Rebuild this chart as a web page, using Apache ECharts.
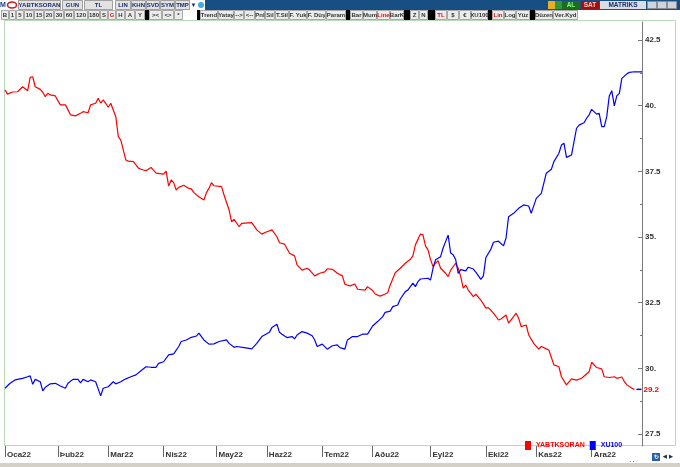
<!DOCTYPE html>
<html><head><meta charset="utf-8">
<script src="https://cdn.jsdelivr.net/npm/echarts@6/dist/echarts.min.js"></script>
<style>html,body{margin:0;padding:0;background:#fff;}#c{width:680px;height:467px;}</style>
</head><body><div id="c"></div>
<script>
// ---- data ----
const monthLabels = ['Oca22','Þub22','Mar22','Nis22','May22','Haz22','Tem22','Aðu22','Eyl22','Eki22','Kas22','Ara22'];
const monthStartDays = [0,21,41,63,84,104,126,146,169,191,211,233];
const yTickValues = [27.5,30,32.5,35,37.5,40,42.5];
const yMinorTicks = [28.75,31.25,33.75,36.25,38.75,41.25];
const seriesNames = ['YABTKSORAN','XU100'];
const lastRedLabel = '29.2';

const redDays = [0,1,3,5,7,9,10,11,12,14,15,16,17,18,20,21,22,24,26,28,30,31,33,34,36,37,38,39,40,41,42,44,45,46,48,49,51,53,54,56,58,60,63,64,65,66,67,68,69,71,73,74,75,77,79,80,81,82,83,86,87,89,90,91,93,94,98,100,102,104,106,108,109,111,113,115,116,118,120,121,123,125,127,128,130,132,134,135,137,139,140,143,144,146,147,149,151,152,153,155,157,159,161,162,163,165,166,167,168,169,170,171,172,173,175,176,177,179,180,181,182,183,184,186,187,189,191,192,194,196,197,199,200,202,203,204,205,207,208,210,212,213,215,216,218,220,221,223,225,227,229,232,233,235,237,238,240,242,243,245,246,247,249,250];
const redValues = [40.60,40.44,40.52,40.53,40.72,40.57,41.08,41.10,40.72,40.62,40.51,40.34,40.47,40.41,40.37,40.19,40.03,40.03,39.65,39.61,39.71,39.77,39.73,40.03,40.09,40.28,40.10,40.22,40.09,39.94,40.09,39.58,38.82,38.69,37.93,37.89,37.87,37.62,37.58,37.52,37.65,37.43,37.39,37.51,36.94,37.17,37.07,36.79,36.89,36.97,36.85,36.83,36.69,36.53,36.41,36.69,36.85,37.07,36.95,36.92,36.60,36.03,35.58,35.67,35.39,35.52,35.55,35.27,35.11,35.20,35.27,35.01,34.78,34.73,34.38,34.28,33.94,33.74,33.81,33.74,33.52,33.62,33.67,33.79,33.77,33.62,33.52,33.20,33.14,33.21,33.01,32.98,33.11,32.96,32.83,32.75,32.83,32.88,33.17,33.64,33.81,34.00,34.15,34.28,34.70,35.11,35.08,34.66,34.51,34.15,33.87,34.00,34.10,33.81,33.62,33.49,33.74,34.00,33.81,33.49,33.05,33.17,32.98,32.73,32.82,32.60,32.29,32.31,32.10,31.84,31.88,32.03,31.72,31.97,32.10,31.91,31.59,31.65,31.27,30.95,30.73,30.83,30.74,30.70,30.13,30.06,29.68,29.37,29.60,29.55,29.62,29.87,30.23,30.03,29.98,29.68,29.65,29.68,29.62,29.67,29.49,29.37,29.24,29.20];

const blueDays = [0,2,4,7,9,10,11,12,14,15,16,18,20,22,24,25,27,29,30,31,33,34,36,38,39,41,43,44,46,48,50,52,54,56,58,60,61,63,65,67,69,70,72,74,76,77,79,81,83,85,88,89,91,92,95,98,100,102,105,106,108,109,110,112,114,115,116,118,120,122,123,124,126,128,130,132,133,135,136,138,140,142,144,146,148,150,151,153,154,156,157,159,160,162,163,164,165,168,169,170,171,173,174,176,177,178,179,180,181,183,184,186,187,189,190,191,193,194,196,198,199,200,202,204,206,208,209,211,213,215,217,218,220,221,222,223,225,227,228,230,231,232,233,235,236,237,238,239,240,241,242,243,244,245,247,248,250,253];
const blueValues = [29.24,29.43,29.56,29.62,29.68,29.71,29.39,29.58,29.49,29.14,29.28,29.41,29.43,29.33,29.24,29.43,29.58,29.58,29.45,29.58,29.49,29.56,29.49,28.95,29.24,29.30,29.49,29.41,29.49,29.60,29.68,29.75,29.91,30.06,30.04,30.04,30.19,30.25,30.51,30.55,30.83,31.02,31.08,31.18,31.23,31.34,31.08,30.92,30.93,31.02,31.08,30.95,30.80,30.83,30.79,30.74,30.95,31.21,31.37,31.55,31.68,31.37,31.30,31.17,31.21,31.12,31.27,31.40,31.34,31.24,31.08,30.83,30.92,30.73,30.86,30.89,30.79,30.73,31.08,31.21,31.21,31.30,31.30,31.61,31.78,31.97,32.13,32.18,32.35,32.41,32.64,32.92,32.98,33.24,33.11,33.30,33.40,33.43,33.36,33.81,34.13,34.25,34.58,35.07,34.39,34.32,34.14,33.61,33.76,33.71,33.85,33.78,33.66,33.39,33.52,34.22,34.54,34.80,34.84,34.66,34.96,35.77,35.90,36.09,36.22,36.18,35.90,36.47,36.66,37.43,37.58,37.87,38.19,38.50,38.57,38.03,38.12,39.14,39.26,39.35,39.52,39.65,39.86,39.68,39.71,39.20,39.20,39.58,40.37,40.57,39.99,40.37,40.47,41.04,41.21,41.27,41.29,41.29];

// ---- styling / layout ----
const FONT = '"Liberation Sans", Arial, sans-serif';
const RED = '#ff0000', BLUE = '#0000ff';
const G = [];
function rect(x,y,w,h,fill,stroke){
  G.push({type:'rect', silent:true, shape:{x:x,y:y,width:w,height:h}, style:{fill:fill||'none', stroke:stroke||null, lineWidth:1}});
}
function txt(x,y,t,color,size){
  G.push({type:'text', silent:true, x:x, y:y, style:{text:t, fill:color, font:'bold '+(size||6.5)+'px '+FONT, align:'center', verticalAlign:'middle'}});
}
// toolbar row 1
rect(0,0,680,10,'#174f82');
rect(0,0,205,10,'#ffffff');
txt(3,5,'M','#1a3c8c',7);
G.push({type:'ellipse', silent:true, shape:{cx:12,cy:5,rx:4.5,ry:3}, style:{fill:'none', stroke:'#d01818', lineWidth:1.5}});
const row1 = [['YABTKSORAN',18,61],['GUN',62,83],['TL',84,113],['LIN',115,131],['KHN',131,146],['SVD',146,160],['SYM',160,175],['TMP',175,190]];
row1.forEach(b=>{rect(b[1]+0.5,0.5,b[2]-b[1]-1,9,'#e2e2e2','#a0a0a0'); txt((b[1]+b[2])/2,5,b[0],'#1b2d6b',6);});
txt(193.5,5,'▼','#1b2d6b',6);
G.push({type:'circle', silent:true, shape:{cx:201,cy:5,r:3}, style:{fill:'#3fa9e8'}});
// right part row1
rect(548,1,7,8,'#e8b020'); rect(555,1,7,8,'#2a9a3a');
rect(562,1,18,8,'#1e6b22'); txt(571,5,'AL','#7dff7d',6.5);
rect(581,1,18,8,'#a01010'); txt(590,5,'SAT','#ffc8c8',6.5);
rect(600,1,46,8,'#d9dde6'); txt(623,5,'MATRIKS','#1b2d6b',6.5);
rect(647.5,1.5,9,7,'#cfd3da','#8a8f99'); rect(657.5,1.5,9,7,'#cfd3da','#8a8f99'); rect(667.5,1.5,9,7,'#cfd3da','#8a8f99');
// toolbar row 2
rect(0,10,680,10,'#ffffff');
const row2 = [['B',1,9],['1',9,16],['5',16,24],['10',24,34],['15',34,44],['20',44,54],['30',54,64],['60',64,74],['120',74,88],['180',88,100],['S',100,108],['G',108,116,1],['H',116,125],['A',125,135],['Y',135,145],['><',149,162],['<>',162,174],['*',174,183],['Trend',200,218],['Yatay',218,234],['-->',234,244],['<--',244,255],['Pnl',255,265],['Sil',265,275],['T.Sil',275,289],['F. Yuk',289,307],['F. Düş',307,326],['Param',326,346],['Bar',350,363],['Mum',363,377],['Line',377,390,1],['BarK',390,404],['Z',410,419],['N',419,428],['TL',435,447,1],['$',447,459],['€',459,471],['XU100',471,488],['Lin',492,504,1],['Log',504,516],['Yüz',516,530],['Düzen',535,553],['Ver.Kyd',553,578]];
[[145,149],[197,200],[346,350],[404,410],[428,435],[488,492],[530,535]].forEach(b=>rect(b[0],10,b[1]-b[0],10,'#000000'));
row2.forEach(b=>{rect(b[1]+0.5,10.5,b[2]-b[1]-1,9,'#ececec','#a8a8a8'); txt((b[1]+b[2])/2,15.5,b[0],b[3]?'#e01010':'#333333',6);});
// plot frame
rect(4.5,20.5,671,425,'none','#b9d9b9');
// bottom strip & icons
rect(0,463,680,4,'#d4d0c8');
txt(632,460,'. .','#555555',6);
rect(652,453,8,8,'#2a5db0'); txt(656,457,'↻','#ffffff',6);
txt(665,457,'◀','#223355',5); txt(671,457,'▶','#223355',5);

const Y_MIN = 27.043, Y_MAX = 43.185;
const axisGray = '#7a7a7a';
const chart = echarts.init(document.getElementById('c'));
chart.setOption({
  animation:false,
  backgroundColor:'#ffffff',
  graphic:{elements:G},
  grid:{left:5, top:22, width:637, height:424, containLabel:false},
  legend:{
    left:520, top:436, icon:'rect', itemWidth:6, itemHeight:9, itemGap:5,
    selectedMode:false,
    textStyle:{fontSize:7, fontWeight:'bold', fontFamily:FONT},
    data:[{name:seriesNames[0], textStyle:{color:RED}},{name:seriesNames[1], textStyle:{color:BLUE}}]
  },
  xAxis:{
    type:'value', min:0, max:253,
    axisLine:{show:false, onZero:false}, splitLine:{show:false},
    axisTick:{show:true, customValues:monthStartDays, length:11, lineStyle:{color:'#666666'}},
    axisLabel:{customValues:monthStartDays, formatter:v=>monthLabels[monthStartDays.indexOf(v)]||'',
      align:'left', padding:[0,0,0,2], margin:5, fontSize:8, fontWeight:'bold', color:'#333333', fontFamily:FONT}
  },
  yAxis:[
    {type:'value', position:'right', min:Y_MIN, max:Y_MAX,
     axisLine:{show:true, onZero:false, lineStyle:{color:axisGray}},
     axisTick:{show:true, inside:true, length:4, customValues:yTickValues, lineStyle:{color:axisGray}},
     axisLabel:{customValues:yTickValues, formatter:v=>Number.isInteger(v)?v+'.':String(v),
       margin:3, fontSize:8, fontWeight:'bold', color:'#333333', fontFamily:FONT},
     splitLine:{show:false}},
    {type:'value', position:'right', min:Y_MIN, max:Y_MAX,
     axisLine:{show:false, onZero:false},
     axisTick:{show:true, inside:true, length:2, customValues:yMinorTicks, lineStyle:{color:axisGray}},
     axisLabel:{show:false}, splitLine:{show:false}}
  ],
  series:[
    {name:seriesNames[0], type:'line', showSymbol:false, color:RED, yAxisIndex:0,
     lineStyle:{width:1.2, color:RED},
     data:redDays.map((d,i)=>[d,redValues[i]]),
     endLabel:{show:true, distance:2, formatter:'{d|}{v|'+lastRedLabel+'}',
       rich:{d:{width:5, height:1.5, backgroundColor:BLUE},
             v:{color:RED, fontWeight:'bold', fontSize:8, fontFamily:FONT, padding:[0,0,0,2]}}}},
    {name:seriesNames[1], type:'line', showSymbol:false, color:BLUE, yAxisIndex:0,
     lineStyle:{width:1.2, color:BLUE},
     data:blueDays.map((d,i)=>[d,blueValues[i]])}
  ]
});
</script>
</body></html>
